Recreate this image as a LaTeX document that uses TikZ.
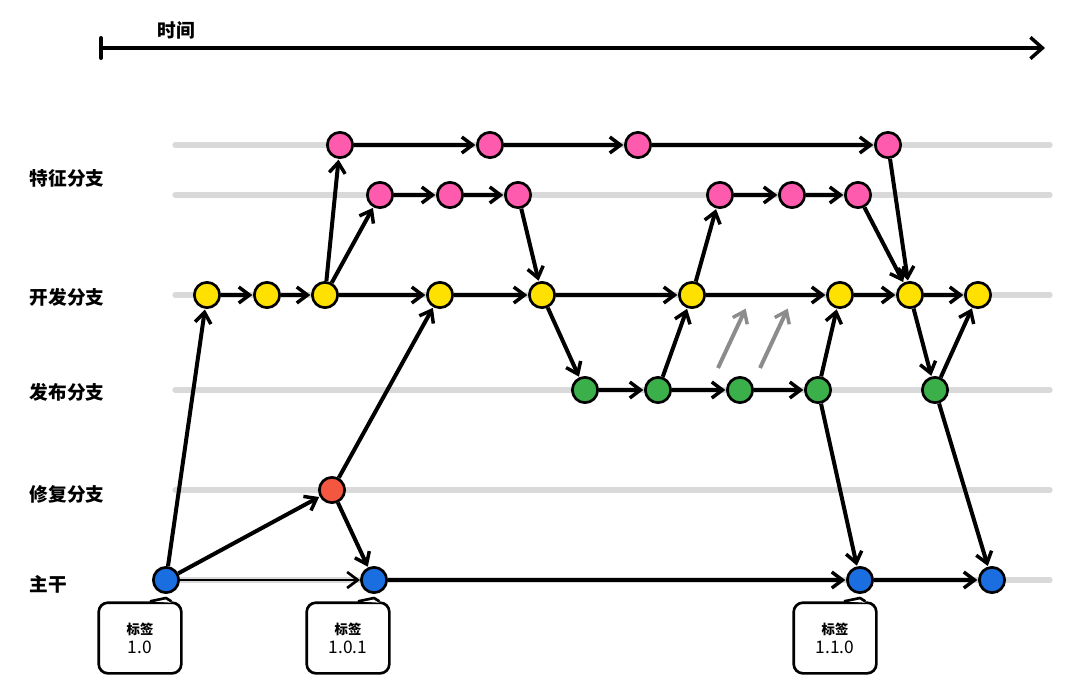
\documentclass[tikz,border=0pt]{standalone}
\usepackage{fontspec}
\newfontfamily\cjk{Noto Sans CJK SC}
\usetikzlibrary{arrows.meta}
\definecolor{featc}{HTML}{FF5BAE}
\definecolor{devc}{HTML}{FFE100}
\definecolor{relc}{HTML}{3BAF4A}
\definecolor{fixc}{HTML}{F4573F}
\definecolor{mainc}{HTML}{1A6EE0}
\tikzset{
	commit/.style={circle,draw,line width=2pt,minimum size=19pt,inner sep=0pt},
	lane/.style={line width=4pt,color=black!15,line cap=round},
	flow/.style={line width=3pt,-{Straight Barb[length=8pt,width=12pt,line width=2.6pt]},shorten >=0.5pt},
	lanelabel/.style={font=\cjk\bfseries\fontsize{14}{16}\selectfont,anchor=west},
	tagbox/.style={draw,line width=2pt,rounded corners=7pt,align=center,minimum width=62pt,minimum height=53pt,font=\cjk\fontsize{13}{16}\selectfont}
}
\begin{document}
\begin{tikzpicture}[x=0.75pt,y=-0.75pt]
	\useasboundingbox (0,0) rectangle (1080,693);
	% time axis
	\draw[line width=3pt,-{Straight Barb[length=9pt,width=16pt,line width=2.6pt]}] (101,48) -- (1045,48);
	\draw[line width=3pt,line cap=round] (101,38) -- (101,58);
	\node[lanelabel] (time) at (153,30) {时间};
	% lanes
	\foreach \y in {145,195,295,390,490,580}
		\draw[lane] (175,\y) -- (1050,\y);
	\node[lanelabel] (lfeat) at (25,178) {特征分支};
	\node[lanelabel] (ldev) at (25,297) {开发分支};
	\node[lanelabel] (lrel) at (25,392) {发布分支};
	\node[lanelabel] (lfix) at (25,494) {修复分支};
	\node[lanelabel] (lmain) at (25,584) {主干};
	% commits
	\foreach \n/\x in {fa/340,fb/490,fc/638,fd/888}
		\node[commit,fill=featc] (\n) at (\x,145) {};
	\foreach \n/\x in {ga/380,gb/450,gc/518,gd/720,ge/792,gf/858}
		\node[commit,fill=featc] (\n) at (\x,195) {};
	\foreach \n/\x in {d1/207,d2/267,d3/325,d4/440,d5/542,d6/692,d7/840,d8/910,d9/978}
		\node[commit,fill=devc] (\n) at (\x,295) {};
	\foreach \n/\x in {r1/585,r2/658,r3/740,r4/818,r5/935}
		\node[commit,fill=relc] (\n) at (\x,390) {};
	\node[commit,fill=fixc] (h1) at (332,490) {};
	\foreach \n/\x in {m1/166,m2/374,m3/860,m4/992}
		\node[commit,fill=mainc] (\n) at (\x,580) {};
	% connections
	\foreach \a/\b in {fa/fb,fb/fc,fc/fd,fd/d8,ga/gb,gb/gc,gc/d5,gd/ge,ge/gf,gf/d8,
		d1/d2,d2/d3,d3/fa,d3/ga,d3/d4,d4/d5,d5/d6,d5/r1,d6/gd,d6/d7,d7/d8,d8/d9,d8/r5,r5/d9,
		r1/r2,r2/r3,r3/r4,r2/d6,r4/d7,r4/m3,r5/m4,
		m1/d1,m1/h1,h1/d4,h1/m2,m2/m3,m3/m4}
		\draw[flow] (\a) -- (\b);
	\draw[line width=1.4pt,-{Straight Barb[length=8pt,width=12pt,line width=2pt]}] (m1) -- (m2);
	% merge-back hints
	\coordinate (s1) at (718,368); \coordinate (e1) at (746,308);
	\coordinate (s2) at (760,368); \coordinate (e2) at (788,308);
	\draw[flow,color=black!45] (s1) -- (e1);
	\draw[flow,color=black!45] (s2) -- (e2);
	% tags
	\foreach \n/\x/\v in {t1/140/1.0,t2/348/1.0.1,t3/835/1.1.0}
		\node[tagbox] (\n) at (\x,638) {\fontsize{10}{12}\selectfont\bfseries 标签\\[-2pt]\v};
	\foreach \t/\m in {t1/m1,t2/m2,t3/m3} {
		\fill[white] (\m.south -| \t.north) ++(0,0) coordinate (\t p);
		\fill[white] ([xshift=-12pt]\t.north -| \m) -- ([yshift=-3pt]\m.south) -- ([xshift=4pt,yshift=-1pt]\t.north -| \m) -- cycle;
		\draw[line width=2pt,line join=round] ([xshift=-12pt]\t.north -| \m) -- ([yshift=-3pt]\m.south) -- ([xshift=4pt]\t.north -| \m);
	}
\end{tikzpicture}
\end{document}
